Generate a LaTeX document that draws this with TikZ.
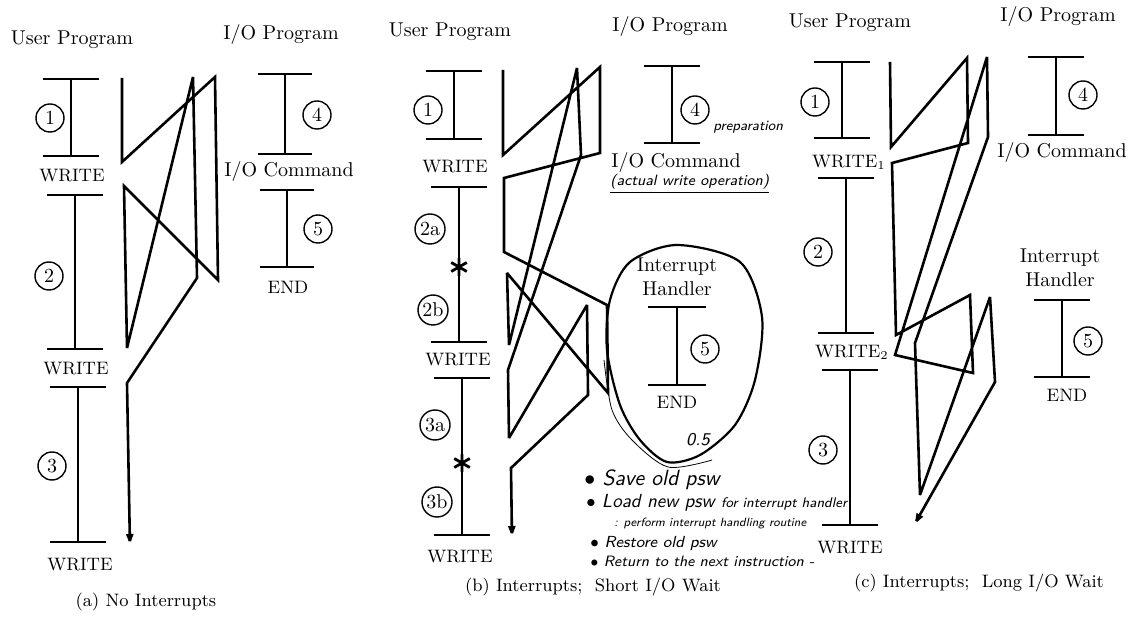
\documentclass[tikz,border=0pt]{standalone}
\usetikzlibrary{arrows.meta}
% one program piece: bar, line, bar
\newcommand\ibeam[4]{%
  \draw[bar] (#1-#4,#2) -- (#1+#4,#2) (#1,#2) -- (#1,#3) (#1-#4,#3) -- (#1+#4,#3);}
% interrupt mark on a program line
\newcommand\intstar[1]{%
  \draw[starline] (#1) +(90:9) -- +(270:9) +(30:9) -- +(210:9) +(150:9) -- +(330:9);}

\begin{document}
\begin{tikzpicture}[x=0.5pt,y=-0.5pt,
  bar/.style={line width=1.2pt},
  flow/.style={line width=1.3pt,miter limit=3},
  tip/.style={-{Latex[length=7pt,width=4pt]}},
  starline/.style={line width=1.4pt},
  num/.style={draw,circle,line width=0.7pt,inner sep=0pt,minimum size=14pt,font=\normalsize},
  wr/.style={font=\small,inner sep=0pt},
  capt/.style={font=\small},
  hand/.style={font=\sffamily\slshape,anchor=west,inner sep=0pt}]

  \useasboundingbox (0,0) rectangle (1144,619);

  % (a) No Interrupts
  \node (upa) at (72,40) {User Program};
  \node (ipa) at (281,35) {I/O Program};
  \ibeam{71}{79}{156}{28}
  \ibeam{75}{195}{349}{28}
  \ibeam{78}{387}{542}{28}
  \node[num] (a1) at (50,118) {1};
  \node[num] (a2) at (49,276) {2};
  \node[num] (a3) at (52,466) {3};
  \node[wr] (wa1) at (72,176) {WRITE};
  \node[wr] (wa2) at (76,369) {WRITE};
  \node[wr] (wa3) at (80,565) {WRITE};
  \ibeam{285}{74}{154}{27}
  \ibeam{287}{190}{267}{27}
  \node[num] (a4) at (317,115) {4};
  \node[num] (a5) at (318,229) {5};
  \node (cma) at (289,172) {I/O Command};
  \node[wr] (ea) at (288,287) {END};
  \node[capt] (capa) at (146,602) {(a) No Interrupts};

  \foreach \x/\y [count=\i] in {122/78,122/162,215/77,218/280,124/186,
      127/348,193/77,197/278,127/383,130/548}
    \coordinate (fa\i) at (\x,\y);
  \draw[flow,tip] (fa1) \foreach \i in {2,...,10} {-- (fa\i)};

  % (b) Interrupts; Short I/O Wait
  \node (upb) at (450,32) {User Program};
  \node (ipb) at (670,27) {I/O Program};
  \ibeam{454}{71}{139}{28}
  \ibeam{459}{187}{342}{28}
  \ibeam{462}{378}{535}{28}
  \node[num] (b1) at (428,110) {1};
  \node[num,minimum size=15pt] (b2a) at (430,229) {2a};
  \node[num,minimum size=15pt] (b2b) at (433,310) {2b};
  \node[num,minimum size=15pt] (b3a) at (435,425) {3a};
  \node[num,minimum size=15pt] (b3b) at (437,502) {3b};
  \coordinate (sb1) at (459,267);
  \coordinate (sb2) at (462,463);
  \intstar{sb1}
  \intstar{sb2}
  \node[wr] (wb1) at (455,167) {WRITE};
  \node[wr] (wb2) at (458,360) {WRITE};
  \node[wr] (wb3) at (460,557) {WRITE};
  \ibeam{672}{66}{143}{28}
  \node[num] (b4) at (695,110) {4};
  \node[hand,font=\sffamily\slshape\fontsize{7}{8}\selectfont] (prep) at (713,127) {preparation};
  \node (cmb) at (676,163) {I/O Command};
  \node[hand,font=\sffamily\slshape\fontsize{7.5}{9}\selectfont] (act) at (610,184) {\underline{(actual write operation)}};

  % handler drawn as a loop round it
  \draw[line width=1.1pt] plot[smooth cycle] coordinates {(677,245) (740,262) (762,317)
      (755,380) (735,425) (700,455) (667,462) (640,440) (620,405) (607,350) (610,300) (630,262)};
  \draw[line width=0.4pt] plot[smooth] coordinates {(604,360) (612,410) (632,440) (668,467) (712,460)};
  \node[align=center] (ihb) at (677,277) {Interrupt\\Handler};
  \ibeam{677}{307}{385}{29}
  \node[num] (b5) at (705,349) {5};
  \node[wr] (eb) at (677,402) {END};
  \node[font=\sffamily\slshape\fontsize{9}{10}\selectfont] (half) at (698,440) {0.5};

  \foreach \x/\y [count=\i] in {503/70,503/155,600/67,600/153,504/178,504/252,
      607/305,608/393,507/273,509/345,577/68,581/155,508/370,509/438,
      587/305,588/395,511/468,512/540}
    \coordinate (fb\i) at (\x,\y);
  \draw[flow,tip] (fb1) \foreach \i in {2,...,18} {-- (fb\i)};

  \node[hand,font=\sffamily\slshape\fontsize{11}{12}\selectfont] (n1) at (584,480) {$\bullet$ Save old psw};
  \node[hand,font=\sffamily\slshape\fontsize{9.5}{11}\selectfont] (n2) at (586,503)
    {$\bullet$ Load new psw {\fontsize{7}{8}\selectfont for interrupt handler}};
  \node[hand,font=\sffamily\slshape\fontsize{6}{7}\selectfont] (n3) at (614,524) {: perform interrupt handling routine};
  \node[hand,font=\sffamily\slshape\fontsize{8}{9}\selectfont] (n4) at (590,543) {$\bullet$ Restore old psw};
  \node[hand,font=\sffamily\slshape\fontsize{7.5}{9}\selectfont] (n5) at (590,561) {$\bullet$ Return to the next instruction -};
  \node[capt] (capb) at (593,587) {(b)\ Interrupts;\ \ Short I/O Wait};

  % (c) Interrupts; Long I/O Wait
  \node (upc) at (850,23) {User Program};
  \node (ipc) at (1058,17) {I/O Program};
  \ibeam{842}{62}{138}{28}
  \ibeam{846}{178}{333}{28}
  \ibeam{850}{370}{525}{28}
  \node[num] (c1) at (815,102) {1};
  \node[num] (c2) at (818,252) {2};
  \node[num] (c3) at (823,450) {3};
  \node[wr] (wc1) at (849,162) {WRITE$_1$};
  \node[wr] (wc2) at (852,352) {WRITE$_2$};
  \node[wr] (wc3) at (850,548) {WRITE};
  \ibeam{1056}{57}{135}{28}
  \node[num] (c4) at (1083,95) {4};
  \node (cmc) at (1062,153) {I/O Command};
  \node[align=center] (ihc) at (1060,268) {Interrupt\\Handler};
  \ibeam{1062}{300}{377}{28}
  \node[num] (c5) at (1088,341) {5};
  \node[wr] (ec) at (1067,395) {END};
  \node[capt] (capc) at (979,583) {(c)\ Interrupts;\ \ Long I/O Wait};

  \foreach \x/\y [count=\i] in {890/62,891/147,967/58,968/143,892/163,896/335,
      970/295,973/373,895/355,987/57,988/137,915/343,920/495,990/297,
      995/382,913/527}
    \coordinate (fc\i) at (\x,\y);
  \draw[flow,tip] (fc1) \foreach \i in {2,...,16} {-- (fc\i)};

\end{tikzpicture}
\end{document}
